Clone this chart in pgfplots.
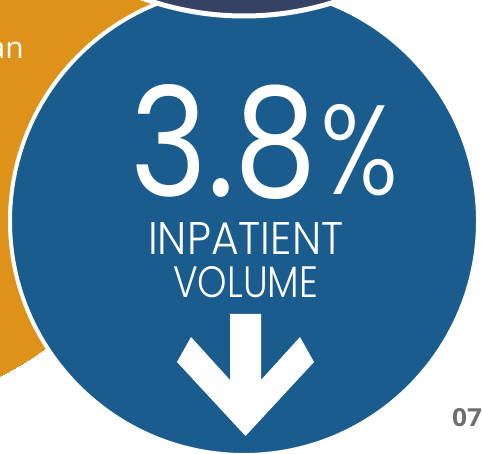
\documentclass[border=0pt]{standalone}
\usepackage{pgfplots}
\pgfplotsset{compat=1.18}
\usepackage{fontspec}
\setmainfont{Open Sans}
\newfontfamily\thin{Poppins Light}
\newfontfamily\reg{Poppins}
\definecolor{cblue}{HTML}{1B5C8E}
\definecolor{corange}{HTML}{DF9219}
\definecolor{cnavy}{HTML}{364263}
\definecolor{cgray}{HTML}{6D6E71}
\begin{document}
\begin{tikzpicture}
\begin{axis}[width=760bp, height=780bp, scale only axis,
  xmin=-200, xmax=560, ymin=-20, ymax=760, hide axis, clip=false, clip marker paths=true]
\coordinate (ll) at (axis cs:0,0);
\coordinate (ur) at (axis cs:482,454);
% orange circle (behind)
\addplot[only marks, mark=*, mark size=332bp, color=corange, mark options={fill=corange, draw=corange, line width=0pt}] coordinates {(-150,374)};
% blue circle with white border
\addplot[only marks, mark=*, mark size=234bp, mark options={fill=cblue, draw=white, line width=4bp}] coordinates {(244,233)};
% navy circle with white border
\addplot[only marks, mark=*, mark size=298bp, mark options={fill=cnavy, draw=white, line width=5bp}] coordinates {(244,736)};
% arrow
\addplot[fill=white, draw=none] coordinates {(230,140) (261,140) (261,74) (300,117) (314,92) (245.5,18) (177,92) (191,117) (230,74)} -- cycle;
% texts
\node[anchor=base west, inner sep=0pt, text=white] at (axis cs:130,257) {\resizebox{187bp}{112bp}{\reg 3.8}};
\node[anchor=base west, inner sep=0pt, text=white] at (axis cs:320,259) {\resizebox{78bp}{90bp}{\thin \%}};
\node[anchor=base west, inner sep=0pt, text=white] at (axis cs:148,199) {\resizebox{195bp}{32bp}{\thin INPATIENT}};
\node[anchor=base west, inner sep=0pt, text=white] at (axis cs:173,156) {\resizebox{145bp}{31bp}{\thin VOLUME}};
\node[anchor=base east, inner sep=0pt, text=white] at (axis cs:24,395) {\fontsize{30bp}{30bp}\selectfont an};
\node[anchor=base west, inner sep=0pt, text=cgray] at (axis cs:452,27) {\resizebox{30bp}{18bp}{\bfseries 07}};
\end{axis}
\pgfresetboundingbox
\path (ll) rectangle (ur);
\end{tikzpicture}
\end{document}
